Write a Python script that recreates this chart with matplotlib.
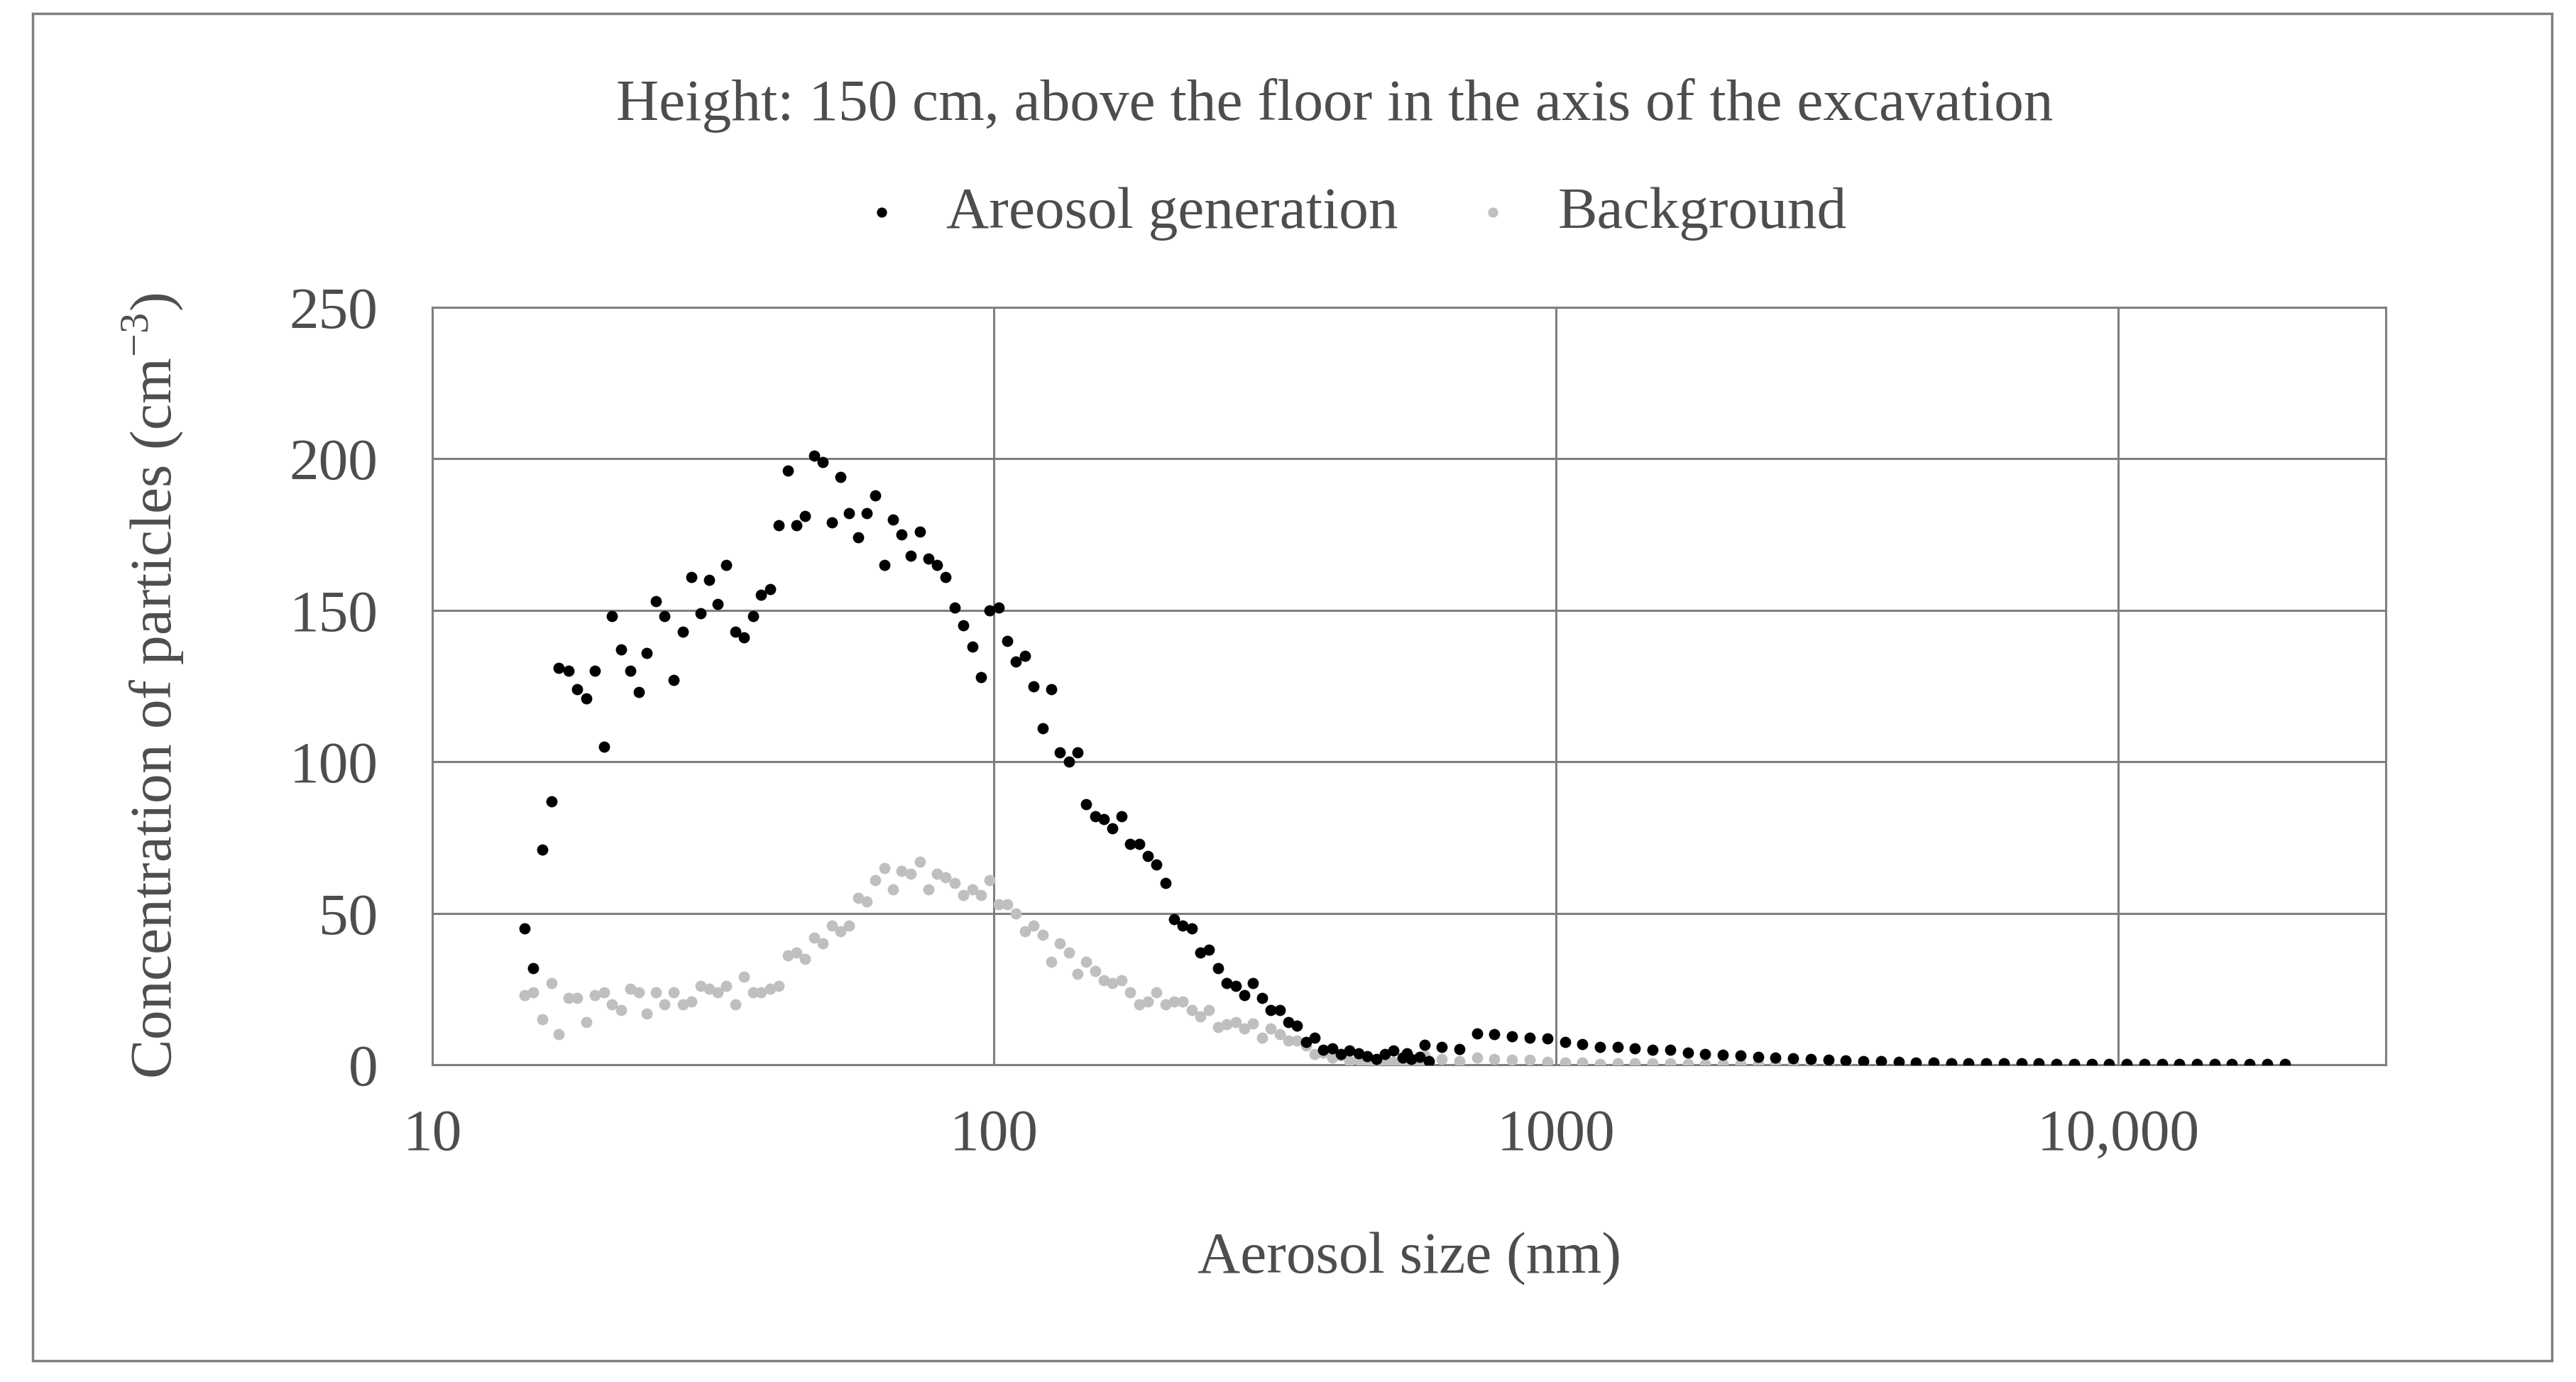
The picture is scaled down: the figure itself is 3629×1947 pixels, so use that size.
import matplotlib
matplotlib.use("Agg")
import matplotlib.pyplot as plt
from matplotlib.ticker import FixedLocator, NullLocator, FuncFormatter
from matplotlib.patches import Rectangle

smps_size = [14.6, 15.1, 15.7, 16.3, 16.8, 17.5, 18.1, 18.8, 19.5, 20.2, 20.9, 21.7, 22.5, 23.3, 24.1,
             25.0, 25.9, 26.9, 27.9, 28.9, 30.0, 31.1, 32.2, 33.4, 34.6, 35.9, 37.2, 38.5, 40.0, 41.4,
             42.9, 44.5, 46.1, 47.8, 49.6, 51.4, 53.3, 55.2, 57.3, 59.4, 61.5, 63.8, 66.1, 68.5, 71.0,
             73.7, 76.4, 79.1, 82.0, 85.1, 88.2, 91.4, 94.7, 98.2, 101.8, 105.5, 109.4, 113.4, 117.6,
             121.9, 126.3, 131.0, 135.8, 140.7, 145.9, 151.2, 156.8, 162.5, 168.5, 174.7, 181.1, 187.7,
             194.6, 201.7, 209.1, 216.7, 224.7, 232.9, 241.4, 250.3, 259.5, 269.0, 278.8, 289.0, 299.6,
             310.6, 322.0, 333.8, 346.0, 358.7, 371.8, 385.4, 399.5, 414.2, 429.4, 445.1, 461.4, 478.3,
             495.8, 514.0, 532.8, 552.3, 572.5, 593.5]
smps_gen = [45, 32, 71, 87, 131, 130, 124, 121, 130, 105, 148, 137, 130, 123, 136, 153, 148, 127, 143,
            161, 149, 160, 152, 165, 143, 141, 148, 155, 157, 178, 196, 178, 181, 201, 199, 179, 194,
            182, 174, 182, 188, 165, 180, 175, 168, 176, 167, 165, 161, 151, 145, 138, 128, 150, 151,
            140, 133, 135, 125, 111, 124, 103, 100, 103, 86, 82, 81, 78, 82, 73, 73, 69, 66, 60, 48,
            46, 45, 37, 38, 32, 27, 26, 23, 27, 22, 18, 18, 14, 13, 7.5, 9, 5, 5.5, 3.6, 4.7, 3.9,
            2.8, 1.9, 3.6, 4.7, 2.5, 1.9, 2.7, 1.3]
smps_bg = [23, 24, 15, 27, 10, 22, 22, 14, 23, 24, 20, 18, 25, 24, 17, 24, 20, 24, 20, 21, 26, 25,
           24, 26, 20, 29, 24, 24, 25, 26, 36, 37, 35, 42, 40, 46, 44, 46, 55, 54, 61, 65, 58, 64,
           63, 67, 58, 63, 62, 60, 56, 58, 56, 61, 53, 53, 50, 44, 46, 43, 34, 40, 37, 30, 34, 31,
           28, 27, 28, 24, 20, 21, 24, 20, 21, 21, 18, 16, 18, 12.5, 13.4, 14, 12, 13.6, 9, 12, 10,
           8, 8, 6.4, 3.6, 4, 2.5, 3, 1.3, 1.7, 0.6, 1.3, 0.2, 1, 0.2, 0.6, 0, 1]
aps_size = [542, 583, 626, 673, 723, 777, 835, 898, 965, 1037, 1114, 1197, 1286, 1382, 1486, 1596,
            1715, 1843, 1981, 2129, 2288, 2458, 2642, 2839, 3051, 3278, 3523, 3786, 4068, 4371,
            4698, 5048, 5425, 5829, 6264, 6732, 7234, 7774, 8354, 8977, 9647, 10370, 11140, 11970,
            12860, 13820, 14860, 15960, 17150, 18430, 19810]
aps_gen = [3.9, 6.6, 5.8, 5.3, 10.3, 10, 9.4, 9, 8.6, 7.5, 6.9, 6.0, 5.8, 5.5, 4.9, 4.9, 4.1, 3.6,
           3.3, 3.0, 2.7, 2.4, 2.1, 1.9, 1.6, 1.4, 1.2, 1.1, 0.9, 0.8, 0.7, 0.6, 0.5, 0.5, 0.4, 0.4,
           0.4, 0.3, 0.3, 0.3, 0.3, 0.3, 0.3, 0.3, 0.3, 0.3, 0.3, 0.3, 0.3, 0.3, 0.3]
aps_bg = [1.5, 3, 1.9, 1.1, 2.5, 1.9, 1.7, 1.7, 1.0, 0.8, 0.8, 0.2, 0.6, 0.5, 0.4, 0.4, 0.3, 0.3,
          0.3, 0.2, 0.2, 0.2, 0.2, 0.1, 0.1, 0.1, 0.1, 0.1, 0.1, 0.1, 0.1, 0.1, 0.1, 0.1, 0.1, 0.1,
          0.1, 0.1, 0.1, 0.1, 0.1, 0.1, 0.1, 0.1, 0.1, 0.1, 0.1, 0.1, 0.1, 0.1, 0.1]

x_ticks = [10, 100, 1000, 10000]
x_tick_labels = ['10', '100', '1000', '10,000']
y_ticks = [0, 50, 100, 150, 200, 250]

plt.rcParams['font.family'] = ['Liberation Serif', 'DejaVu Serif']
plt.rcParams['mathtext.fontset'] = 'custom'
plt.rcParams['mathtext.rm'] = 'Liberation Serif'
txt = '#4d4d4d'
fs = 60
fig = plt.figure(figsize=(36.3, 19.47), dpi=100)
fig.patches.append(Rectangle((20/1568, 1-828/841), 1533/1568, 820/841, transform=fig.transFigure,
                             fill=False, edgecolor='#7f7f7f', lw=2.5))
ax = fig.add_axes([263/1568, 1-648/841, 1189/1568, 461/841])
ax.set_xscale('log')
ax.set_xlim(10, 30000)
ax.set_ylim(0, 250)
bg_x = smps_size + aps_size
bg_y = smps_bg + aps_bg
gen_x = smps_size + aps_size
gen_y = smps_gen + aps_gen
ax.scatter(bg_x, bg_y, s=130, color='#bfbfbf', linewidths=0, label='Background', zorder=3)
ax.scatter(gen_x, gen_y, s=130, color='black', linewidths=0, label='Areosol generation', zorder=4)
ax.xaxis.set_major_locator(FixedLocator(x_ticks))
ax.xaxis.set_minor_locator(NullLocator())
ax.set_xticklabels(x_tick_labels)
ax.set_yticks(y_ticks)
ax.grid(True, color='#7f7f7f', lw=2.2)
ax.set_axisbelow(True)
for s in ax.spines.values():
    s.set_color('#7f7f7f'); s.set_linewidth(2.2)
ax.tick_params(axis='y', length=0, labelsize=fs, labelcolor=txt, pad=55)
ax.tick_params(axis='x', length=0, labelsize=fs, labelcolor=txt, pad=45)
ax.set_xlabel('Aerosol size (nm)', fontsize=fs, color=txt, labelpad=70)
ax.set_ylabel('Concentration of particles (cm$^{-3}$)', fontsize=fs, color=txt, labelpad=105)
handles, labels = ax.get_legend_handles_labels()
fig.legend(handles[::-1], labels[::-1], loc='center', bbox_to_anchor=(0.518, 1-130/841), ncol=2,
           frameon=False, fontsize=fs, labelcolor=txt, handletextpad=0.1, columnspacing=0.6,
           markerscale=0.9)
fig.text(0.518, 1-64/841, 'Height: 150 cm, above the floor in the axis of the excavation',
         ha='center', va='center', fontsize=fs, color=txt)
fig.savefig('out.png', dpi=100)
